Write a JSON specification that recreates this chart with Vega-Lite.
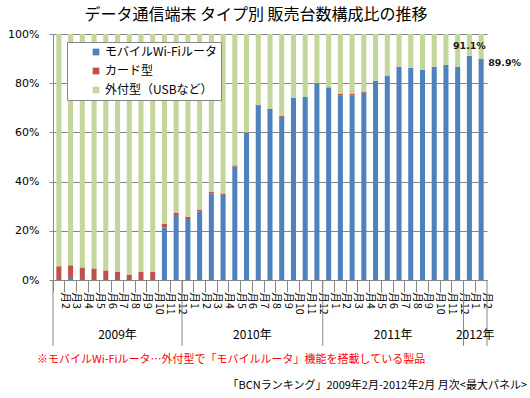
{
  "$schema": "https://vega.github.io/schema/vega-lite/v6.json",
  "autosize": "none",
  "width": 434,
  "height": 246,
  "padding": {"left": 53, "top": 34, "right": 43, "bottom": 118},
  "background": "white",
  "title": {"text": "データ通信端末 タイプ別 販売台数構成比の推移", "font": "Noto Sans CJK JP", "fontSize": 16, "fontWeight": "normal", "color": "black", "anchor": "middle", "dx": -14, "offset": 5},
  "config": {"view": {"stroke": null}, "axisY": {"tickCount": 10}, "axisQuantitative": {"tickCount": 10}},
  "datasets": {
    "main": [
      {"m": "2009-02", "a": 0, "b": 5.6, "c": 94.4},
      {"m": "2009-03", "a": 1.2, "b": 4.8, "c": 94.0},
      {"m": "2009-04", "a": 0.4, "b": 4.7, "c": 94.9},
      {"m": "2009-05", "a": 0, "b": 4.7, "c": 95.3},
      {"m": "2009-06", "a": 0, "b": 3.9, "c": 96.1},
      {"m": "2009-07", "a": 0.4, "b": 2.9, "c": 96.7},
      {"m": "2009-08", "a": 0, "b": 2.2, "c": 97.8},
      {"m": "2009-09", "a": 0, "b": 3.3, "c": 96.7},
      {"m": "2009-10", "a": 0, "b": 3.3, "c": 96.7},
      {"m": "2009-11", "a": 21.3, "b": 1.5, "c": 77.2},
      {"m": "2009-12", "a": 26.4, "b": 1.0, "c": 72.6},
      {"m": "2010-01", "a": 24.8, "b": 0.8, "c": 74.4},
      {"m": "2010-02", "a": 27.8, "b": 0.7, "c": 71.5},
      {"m": "2010-03", "a": 35.2, "b": 0.7, "c": 64.1},
      {"m": "2010-04", "a": 34.6, "b": 0.6, "c": 64.8},
      {"m": "2010-05", "a": 46.1, "b": 0.5, "c": 53.4},
      {"m": "2010-06", "a": 59.9, "b": 0.1, "c": 40.0},
      {"m": "2010-07", "a": 70.8, "b": 0.4, "c": 28.8},
      {"m": "2010-08", "a": 69.1, "b": 0.4, "c": 30.5},
      {"m": "2010-09", "a": 66.3, "b": 0.4, "c": 33.3},
      {"m": "2010-10", "a": 74.0, "b": 0.1, "c": 25.9},
      {"m": "2010-11", "a": 74.0, "b": 0.4, "c": 25.6},
      {"m": "2010-12", "a": 79.9, "b": 0.1, "c": 20.0},
      {"m": "2011-01", "a": 78.3, "b": 0.1, "c": 21.6},
      {"m": "2011-02", "a": 75.1, "b": 0.5, "c": 24.4},
      {"m": "2011-03", "a": 75.1, "b": 0.5, "c": 24.4},
      {"m": "2011-04", "a": 76.1, "b": 0.5, "c": 23.4},
      {"m": "2011-05", "a": 80.9, "b": 0.1, "c": 19.0},
      {"m": "2011-06", "a": 83.0, "b": 0.1, "c": 16.9},
      {"m": "2011-07", "a": 86.7, "b": 0, "c": 13.3},
      {"m": "2011-08", "a": 86.3, "b": 0, "c": 13.7},
      {"m": "2011-09", "a": 85.5, "b": 0, "c": 14.5},
      {"m": "2011-10", "a": 86.7, "b": 0, "c": 13.3},
      {"m": "2011-11", "a": 87.5, "b": 0, "c": 12.5},
      {"m": "2011-12", "a": 86.7, "b": 0, "c": 13.3},
      {"m": "2012-01", "a": 91.1, "b": 0, "c": 8.9},
      {"m": "2012-02", "a": 89.9, "b": 0, "c": 10.1}
    ],
    "series": [
      {"key": "a", "name": "モバイルWi-Fiルータ"},
      {"key": "b", "name": "カード型"},
      {"key": "c", "name": "外付型（USBなど）"}
    ]
  },
  "layer": [
    {
      "data": {"name": "main"},
      "transform": [
        {"fold": ["a", "b", "c"], "as": ["key", "v"]},
        {"lookup": "key", "from": {"data": {"name": "series"}, "key": "key", "fields": ["name"]}}
      ],
      "mark": {"type": "bar", "width": {"band": 0.43}},
      "encoding": {
        "x": {
          "field": "m", "type": "ordinal",
          "scale": {"type": "band", "paddingInner": 0, "paddingOuter": 0},
          "axis": {
            "title": null,
            "labelExpr": "'月' + toNumber(slice(datum.value, 5))",
            "labelAngle": 90, "labelAlign": "left", "labelBaseline": "middle",
            "labelFont": "Noto Sans CJK JP", "labelFontSize": 10.5, "labelColor": "black", "labelPadding": 0,
            "bandPosition": 0, "labelOffset": 5.9,
            "tickSize": 12, "tickColor": "#868686", "domainColor": "#868686", "grid": false
          }
        },
        "y": {
          "field": "v", "type": "quantitative", "stack": "zero",
          "scale": {"domain": [0, 100], "nice": false},
          "axis": {
            "title": null,
            "values": [0, 10, 20, 30, 40, 50, 60, 70, 80, 90, 100],
            "tickCount": 10,
            "labelOverlap": false,
            "labelExpr": "datum.value + '%'",
            "labelFont": "DejaVu Sans", "labelFontSize": 11, "labelColor": "black", "labelPadding": 10,
            "tickSize": 4, "tickColor": "#868686", "domainColor": "#868686",
            "grid": true, "gridColor": "#868686", "gridWidth": 1
          }
        },
        "color": {
          "field": "name", "type": "nominal",
          "scale": {"domain": ["モバイルWi-Fiルータ", "カード型", "外付型（USBなど）"], "range": ["#4F81BD", "#C0504D", "#C3D69B"]},
          "legend": {
            "orient": "none", "legendX": 14, "legendY": 8, "title": null,
            "fillColor": "white", "strokeColor": "#868686", "padding": 4,
            "symbolType": "square", "symbolSize": 45, "symbolStrokeWidth": 0, "symbolOffset": 19,
            "labelFont": "Noto Sans CJK JP", "labelFontSize": 12, "labelColor": "black",
            "rowPadding": 7, "labelOffset": 3, "labelExpr": "datum.label + '　 '"
          }
        },
        "order": {"field": "key", "sort": "ascending"}
      }
    },
    {
      "data": {"values": [{"m": "2009-02"}, {"m": "2010-01"}, {"m": "2011-01"}, {"m": "2012-01"}]},
      "mark": {"type": "rule", "color": "#868686", "strokeWidth": 1},
      "encoding": {
        "x": {"field": "m", "type": "ordinal", "bandPosition": 0},
        "y": {"datum": 0, "type": "quantitative"},
        "y2": {"datum": -26.8}
      }
    },
    {
      "data": {"values": [{"m": "2012-02"}]},
      "mark": {"type": "rule", "color": "#868686", "strokeWidth": 1},
      "encoding": {
        "x": {"field": "m", "type": "ordinal", "bandPosition": 1},
        "y": {"datum": 0, "type": "quantitative"},
        "y2": {"datum": -26.8}
      }
    },
    {
      "data": {"values": [{"m": "2009-07", "t": "2009年"}]},
      "mark": {"type": "text", "font": "Noto Sans CJK JP", "fontSize": 12, "color": "black", "baseline": "middle"},
      "encoding": {
        "x": {"field": "m", "type": "ordinal", "bandPosition": 0.5},
        "y": {"datum": -22.4, "type": "quantitative"},
        "text": {"field": "t"}
      }
    },
    {
      "data": {"values": [{"m": "2010-07", "t": "2010年"}, {"m": "2011-07", "t": "2011年"}, {"m": "2012-02", "t": "2012年"}]},
      "mark": {"type": "text", "font": "Noto Sans CJK JP", "fontSize": 12, "color": "black", "baseline": "middle"},
      "encoding": {
        "x": {"field": "m", "type": "ordinal", "bandPosition": 0},
        "y": {"datum": -22.4, "type": "quantitative"},
        "text": {"field": "t"}
      }
    },
    {
      "data": {"values": [{"m": "2009-02", "t": "※モバイルWi-Fiルータ…外付型で「モバイルルータ」機能を搭載している製品"}]},
      "mark": {"type": "text", "font": "Noto Sans CJK JP", "fontSize": 11, "color": "#FF0000", "align": "left", "baseline": "middle", "dx": -16},
      "encoding": {
        "x": {"field": "m", "type": "ordinal", "bandPosition": 0},
        "y": {"datum": -32.5, "type": "quantitative"},
        "text": {"field": "t"}
      }
    },
    {
      "data": {"values": [{"m": "2012-02", "t": "「BCNランキング」2009年2月-2012年2月 月次<最大パネル>"}]},
      "mark": {"type": "text", "font": "Noto Sans CJK JP", "fontSize": 11, "color": "black", "align": "right", "baseline": "middle", "dx": 40},
      "encoding": {
        "x": {"field": "m", "type": "ordinal", "bandPosition": 1},
        "y": {"datum": -43, "type": "quantitative"},
        "text": {"field": "t"}
      }
    },
    {
      "data": {"values": [{"m": "2012-01", "v": 91.1, "label": "91.1%"}]},
      "mark": {"type": "text", "font": "DejaVu Sans", "fontSize": 9.5, "fontWeight": "bold", "color": "#1a1a1a", "baseline": "bottom", "dy": -5},
      "encoding": {
        "x": {"field": "m", "type": "ordinal"},
        "y": {"field": "v", "type": "quantitative"},
        "text": {"field": "label"}
      }
    },
    {
      "data": {"values": [{"m": "2012-02", "v": 89.9, "label": "89.9%"}]},
      "mark": {"type": "text", "font": "DejaVu Sans", "fontSize": 9.5, "fontWeight": "bold", "color": "#1a1a1a", "align": "left", "baseline": "middle", "dx": 7, "dy": 4},
      "encoding": {
        "x": {"field": "m", "type": "ordinal"},
        "y": {"field": "v", "type": "quantitative"},
        "text": {"field": "label"}
      }
    }
  ]
}
